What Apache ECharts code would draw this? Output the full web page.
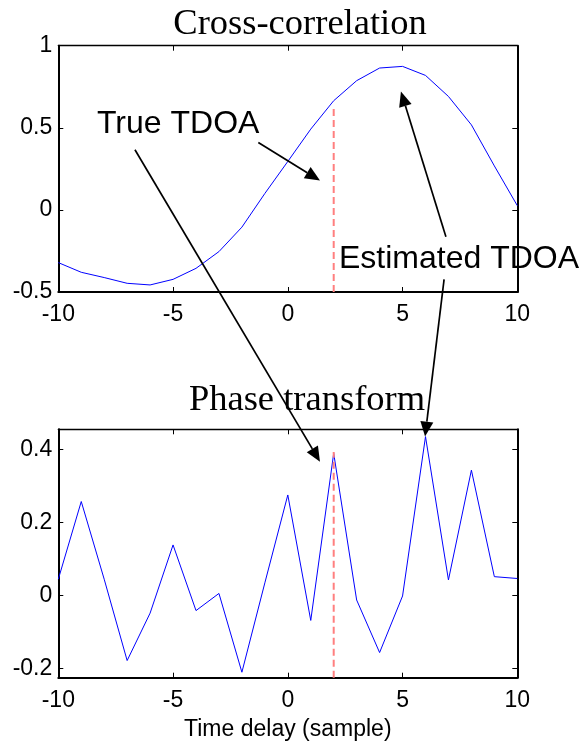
<!DOCTYPE html>
<html>
<head>
<meta charset="utf-8">
<script src="https://cdn.jsdelivr.net/npm/echarts@6/dist/echarts.min.js"></script>
<style>
html,body{margin:0;padding:0;background:#fff;}
#chart{width:581px;height:743px;}
</style>
</head>
<body>
<div id="chart"></div>
<script>
// ---- data ----
var lags = [-10,-9,-8,-7,-6,-5,-4,-3,-2,-1,0,1,2,3,4,5,6,7,8,9,10];
var crossCorr = [-0.321,-0.38,-0.412,-0.447,-0.457,-0.423,-0.356,-0.254,-0.105,0.1,0.295,0.492,0.665,0.787,0.864,0.874,0.819,0.691,0.518,0.268,0.026];
var phaseTransform = [0.045,0.258,0.045,-0.178,-0.048,0.139,-0.041,0.006,-0.21,0.035,0.276,-0.068,0.39,-0.012,-0.156,-0.001,0.436,0.043,0.344,0.052,0.047];
var trueTdoa = 2;
var trueLineTop = [-0.5, 0.628];       // dashed marker span, top panel
var trueLineBottom = [-0.225, 0.394];  // dashed marker span, bottom panel
var xTicks = [-10,-5,0,5,10];
var topYTicks = [-0.5,0,0.5,1];
var bottomYTicks = [-0.2,0,0.2,0.4];
var titles = ['Cross-correlation','Phase transform'];
var xLabel = 'Time delay (sample)';
// annotation arrows: [startPanel, startX, startY, endPanel, endX, endY] in data units
var arrows = [
  [0,-1.285,0.41, 0,1.403,0.179],
  [0,-6.66,0.366, 1,1.403,0.367],
  [0,6.89,-0.163, 0,4.93,0.721],
  [0,6.81,-0.423, 1,5.98,0.436]
];
var annotations = [
  {text:'True TDOA', x:97, y:124},
  {text:'Estimated TDOA', x:339, y:259.5}
];

// ---- chart ----
var chart = echarts.init(document.getElementById('chart'), null, {renderer:'canvas'});
var SANS = '"Liberation Sans", Arial, Helvetica, sans-serif';
var SERIF = '"Liberation Serif", "Times New Roman", serif';

function pairs(xs, ys){ return xs.map(function(x,i){ return [x, ys[i]]; }); }

function xAx(grid, pos, labels){
  return {
    type:'value', gridIndex:grid, position:pos, min:-10, max:10, interval:5,
    axisLine:{show:true, onZero:false, lineStyle:{color:'#000', width: pos==='bottom'?2:1.3}},
    axisTick:{show:true, inside:true, length:5, customValues:xTicks, lineStyle:{color:'#000', width:1}},
    axisLabel:{show:labels, margin:11, color:'#000', fontSize:23, fontFamily:SANS, customValues:xTicks},
    splitLine:{show:false}
  };
}
function yAx(grid, pos, labels, min, max, ticks){
  return {
    type:'value', gridIndex:grid, position:pos, min:min, max:max,
    axisLine:{show:true, onZero:false, lineStyle:{color:'#000', width: 2}},
    axisTick:{show:true, inside:true, length:5, customValues:ticks, lineStyle:{color:'#000', width:1}},
    axisLabel:{show:labels, margin:6, color:'#000', fontSize:23, fontFamily:SANS, customValues:ticks},
    splitLine:{show:false}
  };
}

var xb = xAx(1,'bottom',true);
xb.name = xLabel; xb.nameLocation = 'middle'; xb.nameGap = 40;
xb.nameTextStyle = {color:'#000', fontSize:23, fontFamily:SANS};

var option = {
  animation:false,
  backgroundColor:'#fff',
  title:[
    {text:titles[0], left:300, textAlign:'center', top:6, padding:0,
     textStyle:{fontFamily:SERIF, fontSize:36.5, fontWeight:'normal', color:'#000'}},
    {text:titles[1], left:307, textAlign:'center', top:382, padding:0,
     textStyle:{fontFamily:SERIF, fontSize:36.5, fontWeight:'normal', color:'#000'}}
  ],
  grid:[
    {left:58.3, top:45.7, width:459, height:246.3, outerBoundsMode:'none', containLabel:false},
    {left:58.3, top:429.3, width:459, height:248.4, outerBoundsMode:'none', containLabel:false}
  ],
  xAxis:[ xAx(0,'bottom',true), xAx(0,'top',false), xb, xAx(1,'top',false) ],
  yAxis:[
    yAx(0,'left',true,-0.5,1,topYTicks), yAx(0,'right',false,-0.5,1,topYTicks),
    yAx(1,'left',true,-0.225,0.456,bottomYTicks), yAx(1,'right',false,-0.225,0.456,bottomYTicks)
  ],
  series:[
    {type:'line', xAxisIndex:0, yAxisIndex:0, data:pairs(lags,crossCorr), showSymbol:false,
     lineStyle:{color:'#0000ff', width:1}, z:2},
    {type:'line', xAxisIndex:0, yAxisIndex:0, data:[[trueTdoa,trueLineTop[0]],[trueTdoa,trueLineTop[1]]], showSymbol:false,
     lineStyle:{color:'#ff7f7f', width:2, type:[7,4]}, z:3},
    {type:'line', xAxisIndex:2, yAxisIndex:2, data:pairs(lags,phaseTransform), showSymbol:false,
     lineStyle:{color:'#0000ff', width:1}, z:2},
    {type:'line', xAxisIndex:2, yAxisIndex:2, data:[[trueTdoa,trueLineBottom[0]],[trueTdoa,trueLineBottom[1]]], showSymbol:false,
     lineStyle:{color:'#ff7f7f', width:2, type:[7,4]}, z:3}
  ]
};
chart.setOption(option);

function toPx(panel, x, y){
  return chart.convertToPixel({xAxisIndex: panel*2, yAxisIndex: panel*2}, [x, y]);
}
var graphics = [];
arrows.forEach(function(a){
  var s = toPx(a[0], a[1], a[2]);
  var e = toPx(a[3], a[4], a[5]);
  var dx = e[0]-s[0], dy = e[1]-s[1];
  var len = Math.sqrt(dx*dx+dy*dy);
  var ux = dx/len, uy = dy/len;
  var L = 15, W = 6.5;
  var bx = e[0]-ux*L, by = e[1]-uy*L;
  graphics.push({type:'line', z:100, shape:{x1:s[0], y1:s[1], x2:bx, y2:by},
    style:{stroke:'#000', lineWidth:1.7}});
  graphics.push({type:'polygon', z:100, shape:{points:[[e[0],e[1]],[bx-uy*W, by+ux*W],[bx+uy*W, by-ux*W]]},
    style:{fill:'#000'}});
});
annotations.forEach(function(t){
  graphics.push({type:'text', z:101, x:t.x, y:t.y,
    style:{text:t.text, fontSize:32, fontFamily:SANS, fill:'#000', align:'left', verticalAlign:'middle'}});
});
chart.setOption({graphic:graphics});
</script>
</body>
</html>
